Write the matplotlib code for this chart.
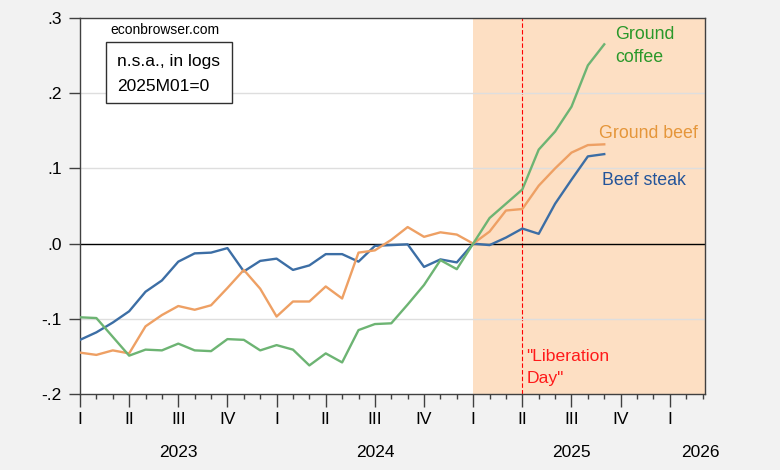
import matplotlib
matplotlib.use("Agg")
import matplotlib.pyplot as plt
from matplotlib.patches import Rectangle
from matplotlib.ticker import FixedLocator, MultipleLocator
import numpy as np

plt.rcParams["font.family"] = ["Liberation Sans", "DejaVu Sans"]

# Monthly data, 2023M01 .. 2025M09, logs, 2025M01 = 0.
months = np.arange(33)
beef_steak = [-0.128, -0.118, -0.105, -0.090, -0.064, -0.049, -0.024, -0.013,
              -0.012, -0.006, -0.037, -0.023, -0.020, -0.035, -0.029, -0.014,
              -0.014, -0.024, -0.003, -0.002, -0.001, -0.031, -0.021, -0.025,
              0.000, -0.002, 0.008, 0.020, 0.013, 0.053, 0.085, 0.116, 0.119]
ground_beef = [-0.145, -0.148, -0.142, -0.146, -0.110, -0.095, -0.083, -0.088,
               -0.082, -0.059, -0.035, -0.060, -0.097, -0.077, -0.077, -0.057,
               -0.073, -0.012, -0.009, 0.005, 0.022, 0.009, 0.015, 0.012,
               0.000, 0.016, 0.044, 0.046, 0.077, 0.100, 0.121, 0.131, 0.132]
ground_coffee = [-0.098, -0.099, -0.124, -0.149, -0.141, -0.142, -0.133, -0.142,
                 -0.143, -0.127, -0.128, -0.142, -0.135, -0.141, -0.162, -0.146,
                 -0.158, -0.115, -0.107, -0.106, -0.081, -0.055, -0.022, -0.034,
                 0.000, 0.034, 0.053, 0.072, 0.125, 0.149, 0.182, 0.237, 0.265]

quarter_labels = ["I", "II", "III", "IV"] * 3 + ["I"]
years = ["2023", "2024", "2025", "2026"]
year_pos = [6, 18, 30, 37.85]
yticks = [-0.2, -0.1, 0.0, 0.1, 0.2, 0.3]
ytick_labels = ["-.2", "-.1", ".0", ".1", ".2", ".3"]

blue = "#3c6ea5"
orange = "#eea064"
green = "#6db473"

fig = plt.figure(figsize=(7.8, 4.7), dpi=100, facecolor="#f2f2f2")
ax = fig.add_axes([80 / 780, 1 - 394 / 470, 625 / 780, 376 / 470])
ax.set_facecolor("white")

ax.set_xlim(0, 38.15)
ax.set_ylim(-0.2, 0.3)

# Post-inauguration shading and "Liberation Day" marker
ax.axvspan(24, 38.15, color="#fddfc3", lw=0, zorder=0)
ax.axvline(27, color="red", ls=(0, (4, 2)), lw=0.8, zorder=1)

for yv in [-0.1, 0.1, 0.2]:
    ax.axhline(yv, color="#dedede", lw=1, zorder=1)
ax.axhline(0, color="black", lw=1, zorder=2)

ax.plot(months, beef_steak, color=blue, lw=1.7, zorder=3)
ax.plot(months, ground_beef, color=orange, lw=1.7, zorder=3)
ax.plot(months, ground_coffee, color=green, lw=1.7, zorder=3)

# Axes formatting
ax.yaxis.set_major_locator(FixedLocator(yticks))
ax.set_yticklabels(ytick_labels, fontsize=12.5)
ax.tick_params(axis="y", direction="out", length=8, width=1, pad=5,
               color="#404040")

ax.xaxis.set_major_locator(FixedLocator(np.arange(0, 37, 3)))
ax.xaxis.set_minor_locator(MultipleLocator(1))
ax.set_xticklabels(quarter_labels, fontsize=12.5)
ax.tick_params(axis="x", which="major", direction="out", length=9, width=1,
               pad=4, color="#404040")
ax.tick_params(axis="x", which="minor", direction="out", length=3.5, width=1,
               color="#404040")

for s in ax.spines.values():
    s.set_color("#404040")
    s.set_linewidth(1)

# Year labels below the quarter labels
for yr, xp in zip(years, year_pos):
    ax.annotate(yr, xy=(xp, 1 - 457.3 / 470),
                xycoords=("data", "figure fraction"),
                fontsize=12.5, ha="center", va="baseline",
                annotation_clip=False)

# Annotations
ax.text(1.87, 0.279, "econbrowser.com", fontsize=10, va="baseline")
ax.add_patch(Rectangle((1.61, 0.1868), 7.67, 0.0808, facecolor="white",
                       edgecolor="#303030", lw=1, zorder=4))
ax.text(2.25, 0.2356, "n.s.a., in logs", fontsize=12.5, va="baseline", zorder=5)
ax.text(2.25, 0.2023, "2025M01=0", fontsize=12.5, va="baseline", zorder=5)

ax.text(32.66, 0.2725, "Ground", color="#2a982a", fontsize=12.8, va="baseline")
ax.text(32.66, 0.2419, "coffee", color="#2a982a", fontsize=12.8, va="baseline")
ax.text(31.68, 0.1405, "Ground beef", color="#e5963a", fontsize=12.8,
        va="baseline")
ax.text(31.84, 0.0779, "Beef steak", color="#23549a", fontsize=12.8,
        va="baseline")
ax.text(27.26, -0.1555, '"Liberation', color="#ff1a1a", fontsize=12.6,
        va="baseline")
ax.text(27.26, -0.186, 'Day"', color="#ff1a1a", fontsize=12.6, va="baseline")

fig.savefig("out.png", dpi=100, facecolor=fig.get_facecolor())
